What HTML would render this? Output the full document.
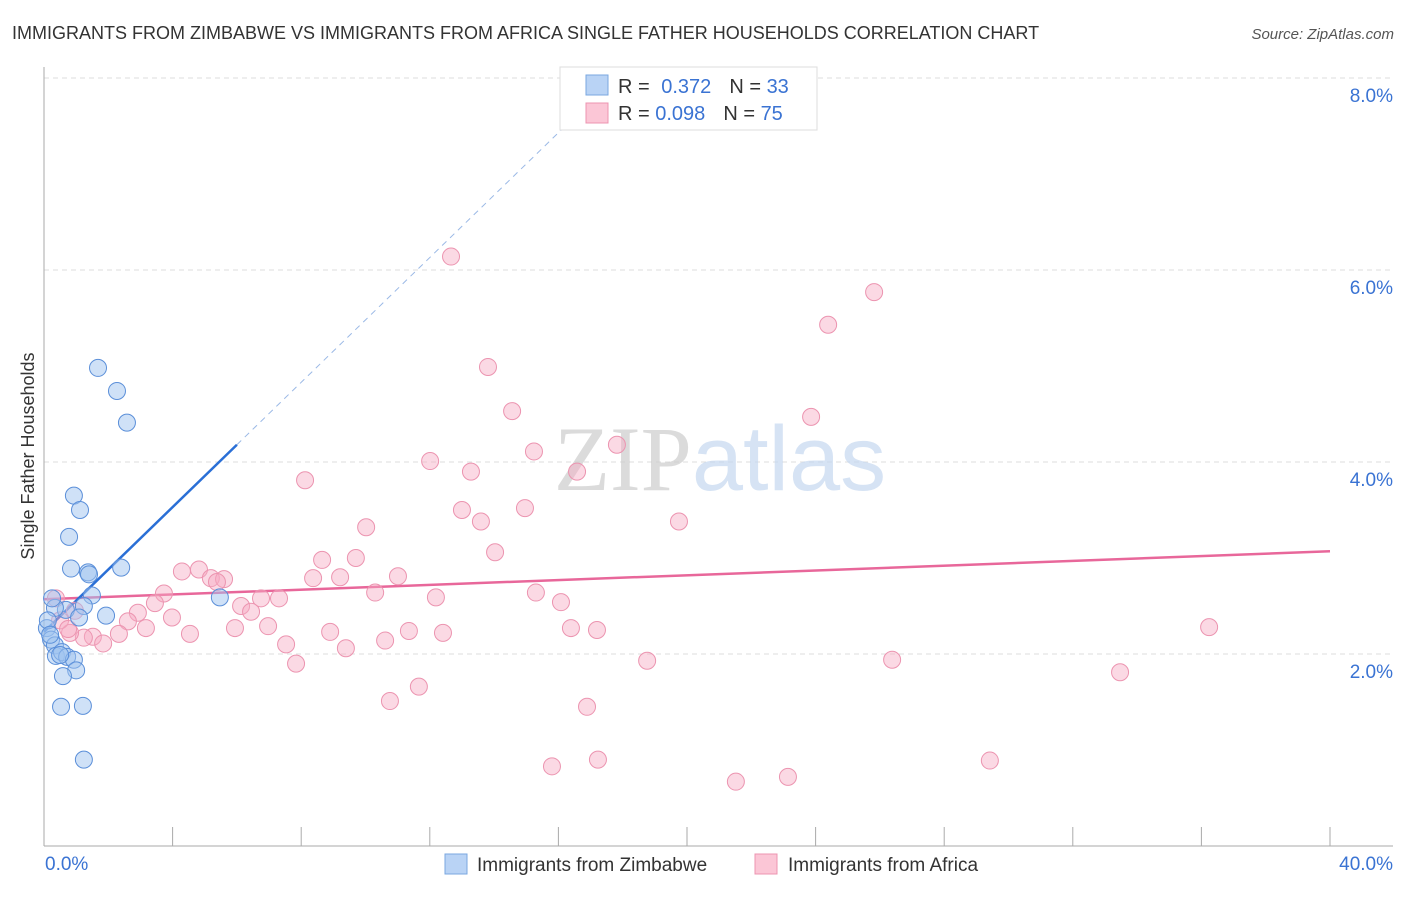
<!DOCTYPE html>
<html><head><meta charset="utf-8"><style>
body{margin:0;background:#fff;font-family:"Liberation Sans",sans-serif;}
svg text{font-family:"Liberation Sans",sans-serif;}
</style></head><body>
<svg id="chart" width="1406" height="892" xmlns="http://www.w3.org/2000/svg">
<text x="12" y="39" font-size="18" fill="#333">IMMIGRANTS FROM ZIMBABWE VS IMMIGRANTS FROM AFRICA SINGLE FATHER HOUSEHOLDS CORRELATION CHART</text>
<text x="1394" y="39" font-size="15" fill="#555" text-anchor="end" font-style="italic">Source: ZipAtlas.com</text>
<text transform="translate(34,456) rotate(-90)" font-size="18" fill="#333" text-anchor="middle">Single Father Households</text>
<g id="grid"></g>
<text x="720" y="490" font-size="92" text-anchor="middle" fill="#ddd" opacity="0.7"><tspan font-family="Liberation Serif" fill="#ccc">ZIP</tspan><tspan fill="#c5d8f0">atlas</tspan></text>
<g id="lines"></g>
<g id="points"></g>
<g>
<rect x="560" y="67" width="257" height="63" fill="#fff" stroke="#ddd"/>
<rect x="586" y="75" width="22" height="20" fill="#b9d3f5" stroke="#7aa7e0"/>
<rect x="586" y="103" width="22" height="20" fill="#fbc6d6" stroke="#ec94b0"/>
<text x="618" y="93" font-size="20" fill="#333">R = <tspan fill="#3a73d3" dx="6">0.372</tspan><tspan dx="18" fill="#333">N = </tspan><tspan fill="#3a73d3">33</tspan></text>
<text x="618" y="120" font-size="20" fill="#333">R = <tspan fill="#3a73d3">0.098</tspan><tspan dx="18" fill="#333">N = </tspan><tspan fill="#3a73d3">75</tspan></text>
</g>
<g>
<rect x="445" y="854" width="22" height="20" fill="#b9d3f5" stroke="#7aa7e0"/>
<text x="477" y="871" font-size="19" fill="#333">Immigrants from Zimbabwe</text>
<rect x="755" y="854" width="22" height="20" fill="#fbc6d6" stroke="#ec94b0"/>
<text x="788" y="871" font-size="19" fill="#333">Immigrants from Africa</text>
</g>
</svg>
<script>
const yTicks=[2,4,6,8];
const xTickLabels=["0.0%","40.0%"];
const zimX=[1.68,2.27,2.58,0.93,1.12,0.78,0.84,1.37,2.40,1.49,5.47,1.24,0.68,0.34,1.09,1.93,0.09,0.22,0.34,0.37,0.56,0.72,0.93,1.00,0.59,0.53,1.21,1.24,0.12,0.25,0.19,0.50,1.40];
const zimY=[4.98,4.74,4.41,3.65,3.50,3.22,2.89,2.85,2.90,2.61,2.59,2.50,2.46,2.48,2.38,2.40,2.27,2.15,2.09,1.98,2.02,1.97,1.94,1.83,1.77,1.45,1.46,0.90,2.35,2.58,2.20,1.99,2.83];
const afrPx=[[451,257],[874,292],[828,325],[488,367],[512,411],[811,417],[617,445],[534,451],[430,461],[471,472],[577,472],[305,480],[462,510],[525,508],[481,522],[679,522],[366,527],[495,552],[322,560],[356,558],[182,571],[199,570],[211,578],[224,579],[217,582],[313,578],[340,577],[398,576],[164,594],[155,603],[375,593],[436,597],[536,593],[561,602],[261,598],[279,598],[241,606],[251,612],[138,613],[172,618],[128,621],[146,628],[268,626],[235,628],[571,628],[597,630],[330,632],[409,631],[443,633],[190,634],[119,634],[93,637],[103,643],[84,638],[70,633],[60,620],[56,598],[75,611],[286,644],[346,648],[385,641],[296,664],[647,661],[892,660],[1120,672],[1209,627],[419,687],[390,701],[587,707],[552,766],[598,760],[736,782],[788,777],[990,761],[68,629]];
const afrX=afrPx.map(p=>+((p[0]-44)/32.15).toFixed(2));
const afrY=afrPx.map(p=>+((846-p[1])/96).toFixed(2));
const zimTrend=[2.23,0.325]; // intercept, slope
const afrTrend=[2.57,0.0125];
const X=v=>44+v*32.15, Y=v=>846-v*96;
const NS="http://www.w3.org/2000/svg";
function mk(t,a,p){const e=document.createElementNS(NS,t);for(const k in a)e.setAttribute(k,a[k]);p.appendChild(e);return e;}
const g=document.getElementById('grid');
yTicks.forEach(t=>{
 const l=mk('line',{x1:44,x2:1393,y1:Y(t),y2:Y(t),stroke:'#ddd','stroke-dasharray':'5,4'},g);
 
 
 const tx=mk('text',{x:1393,y:Y(t)+24,'font-size':19,fill:'#3a73d3','text-anchor':'end'},g);
 tx.textContent=t.toFixed(1)+'%';
 
 
});
const ax=mk('line',{x1:44,x2:44,y1:67,y2:846,stroke:'#aaa'},g);


const bx=mk('line',{x1:44,x2:1393,y1:846,y2:846,stroke:'#aaa'},g);


for(let i=1;i<=10;i++){const tk=mk('line',{x1:X(i*4),x2:X(i*4),y1:827,y2:846,stroke:'#aaa'},g);
 
 }
[[0,'start',45],[40,'end',1393]].forEach((d,i)=>{const t=mk('text',{x:d[2],y:870,'font-size':19,fill:'#3a73d3','text-anchor':d[1]},g);t.textContent=xTickLabels[i];
 
 });
const L=document.getElementById('lines');
const pl=mk('line',{x1:X(0),y1:Y(afrTrend[0]),x2:X(40),y2:Y(afrTrend[0]+afrTrend[1]*40),stroke:'#e8679a','stroke-width':2.5},L);


const bl=mk('line',{x1:X(0),y1:Y(zimTrend[0]),x2:X(6),y2:Y(zimTrend[0]+zimTrend[1]*6),stroke:'#2a6fd6','stroke-width':2.5},L);


const bd=mk('line',{x1:X(6),y1:Y(zimTrend[0]+zimTrend[1]*6),x2:X(17),y2:Y(zimTrend[0]+zimTrend[1]*17),stroke:'#9bb9e6','stroke-width':1,'stroke-dasharray':'6,5'},L);


const P=document.getElementById('points');
afrX.forEach((x,i)=>{const c=mk('circle',{cx:X(x),cy:Y(afrY[i]),r:8.5,fill:'rgba(247,170,195,0.45)',stroke:'#ec94b0','stroke-width':1},P);
 
 });
zimX.forEach((x,i)=>{const c=mk('circle',{cx:X(x),cy:Y(zimY[i]),r:8.5,fill:'rgba(160,195,240,0.5)',stroke:'#5b8fd9','stroke-width':1},P);
 
 });
</script>
</body></html>
